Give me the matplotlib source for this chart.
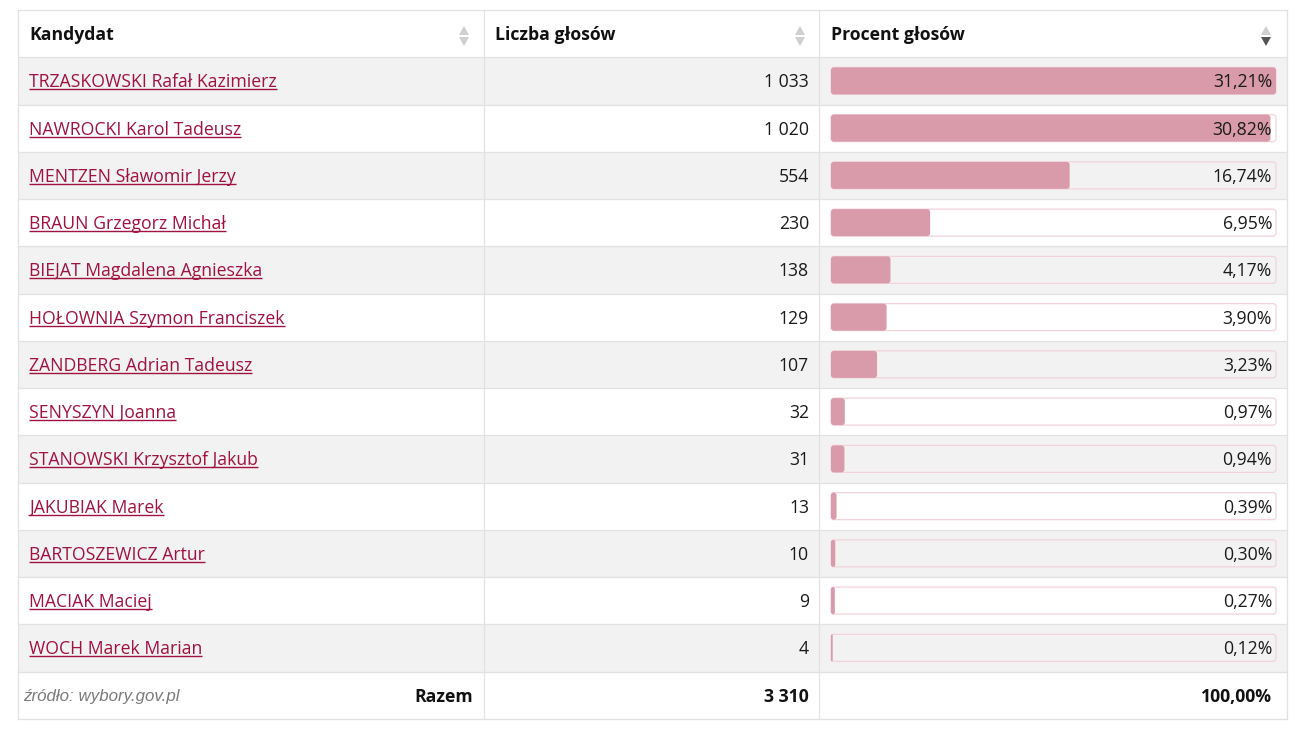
import matplotlib
matplotlib.use("Agg")
import matplotlib.pyplot as plt
from matplotlib.patches import FancyBboxPatch, Rectangle, Polygon

candidates = [
    "TRZASKOWSKI Rafał Kazimierz",
    "NAWROCKI Karol Tadeusz",
    "MENTZEN Sławomir Jerzy",
    "BRAUN Grzegorz Michał",
    "BIEJAT Magdalena Agnieszka",
    "HOŁOWNIA Szymon Franciszek",
    "ZANDBERG Adrian Tadeusz",
    "SENYSZYN Joanna",
    "STANOWSKI Krzysztof Jakub",
    "JAKUBIAK Marek",
    "BARTOSZEWICZ Artur",
    "MACIAK Maciej",
    "WOCH Marek Marian",
]
votes = [1033, 1020, 554, 230, 138, 129, 107, 32, 31, 13, 10, 9, 4]
percents = [31.21, 30.82, 16.74, 6.95, 4.17, 3.90, 3.23, 0.97, 0.94, 0.39, 0.30, 0.27, 0.12]
headers = ["Kandydat", "Liczba głosów", "Procent głosów"]
total_votes = 3310
total_pct = 100.00
source = "źródło: wybory.gov.pl"
total_label = "Razem"

W, H = 1300, 739
fig = plt.figure(figsize=(W / 100, H / 100), dpi=100)
ax = fig.add_axes([0, 0, 1, 1])
ax.set_xlim(0, W)
ax.set_ylim(H, 0)
ax.axis("off")

FONT = "Open Sans"
FS = 12.7
LINK = "#a0123f"
TXT = "#1a1a1a"
GRID = "#e2e2e2"
STRIPE = "#f2f2f2"
BAR = "#d99ba9"
TRACK = "#f2d3dc"
DY = 1.5

x0, x1, x2, x3 = 18, 484, 819, 1287
top = 10
row_h = 47.25
n = len(candidates)
ys = [top + row_h * i for i in range(n + 3)]
bottom = ys[n + 2]

# stripes
for i in range(n):
    if i % 2 == 0:
        ax.add_patch(Rectangle((x0, ys[i + 1]), x3 - x0, row_h, facecolor=STRIPE, edgecolor="none", zorder=0))

# grid lines
for y in ys:
    ax.plot([x0, x3], [y, y], color=GRID, lw=0.9, zorder=1)
for x in (x0, x1, x2, x3):
    ax.plot([x, x], [top, bottom], color=GRID, lw=0.9, zorder=1)

# header
hy = top + row_h / 2 + DY
ax.text(29, hy, headers[0], ha="left", va="center", fontsize=FS, fontweight="bold", family=FONT, color="#111")
ax.text(495, hy, headers[1], ha="left", va="center", fontsize=FS, fontweight="bold", family=FONT, color="#111")
ax.text(831, hy, headers[2], ha="left", va="center", fontsize=FS, fontweight="bold", family=FONT, color="#111")

def arrows(xc, dark_down=False):
    up = Polygon([[xc - 5, 35], [xc + 5, 35], [xc, 26]], closed=True, facecolor="#cfcfcf", edgecolor="none", zorder=3)
    dn = Polygon([[xc - 5, 37], [xc + 5, 37], [xc, 46]], closed=True,
                 facecolor="#555555" if dark_down else "#cfcfcf", edgecolor="none", zorder=3)
    ax.add_patch(up)
    ax.add_patch(dn)

arrows(464)
arrows(800)
arrows(1266, dark_down=True)

bar_x = 831
bar_w = 445
bar_h = 27
pmax = max(percents)

name_texts = []
for i in range(n):
    yc = ys[i + 1] + row_h / 2
    t = ax.text(29, yc + DY, candidates[i], ha="left", va="center", fontsize=FS, family=FONT, color=LINK, zorder=4)
    name_texts.append((t, yc))
    ax.text(809, yc + DY, f"{votes[i]:,}".replace(",", " "), ha="right", va="center", fontsize=FS, family=FONT, color=TXT, zorder=4)
    # track
    ax.add_patch(FancyBboxPatch((bar_x, yc - bar_h / 2), bar_w, bar_h,
                                boxstyle="round,pad=0,rounding_size=3",
                                facecolor="none", edgecolor=TRACK, lw=0.9, zorder=2))
    w = percents[i] / pmax * bar_w
    rs = min(3, w / 2)
    ax.add_patch(FancyBboxPatch((bar_x, yc - bar_h / 2), w, bar_h,
                                boxstyle=f"round,pad=0,rounding_size={rs}",
                                facecolor=BAR, edgecolor="none", zorder=3))
    ax.text(1272, yc + DY, f"{percents[i]:.2f}%".replace(".", ","), ha="right", va="center", fontsize=FS, family=FONT, color=TXT, zorder=4)

# footer
fy = ys[n + 1] + row_h / 2
ax.text(23, fy + 1.5, source, ha="left", va="center", fontsize=12.2, style="italic", family="Liberation Sans", color="#7a7a7a")
ax.text(473, fy + DY, total_label, ha="right", va="center", fontsize=FS, fontweight="bold", family=FONT, color="#111")
ax.text(809, fy + DY, f"{total_votes:,}".replace(",", " "), ha="right", va="center", fontsize=FS, fontweight="bold", family=FONT, color="#111")
ax.text(1272, fy + DY, f"{total_pct:.2f}%".replace(".", ","), ha="right", va="center", fontsize=FS, fontweight="bold", family=FONT, color="#111")

# underlines
fig.canvas.draw()
r = fig.canvas.get_renderer()
inv = ax.transData.inverted()
for t, yc in name_texts:
    bb = t.get_window_extent(r)
    (xa, _), (xb, _) = inv.transform([[bb.x0, bb.y0], [bb.x1, bb.y1]])
    ax.plot([xa, xb], [yc + 8.5, yc + 8.5], color=LINK, lw=1.0, zorder=4, solid_capstyle="butt")

fig.savefig("out.png", dpi=100, facecolor="white")
